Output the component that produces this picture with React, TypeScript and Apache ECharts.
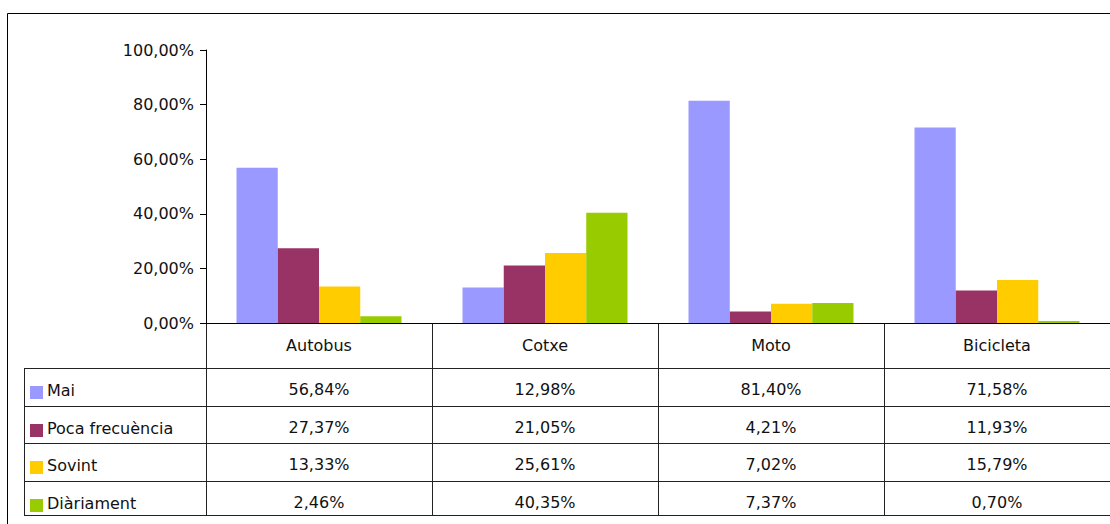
import React, { useEffect, useRef } from "react";
import * as echarts from "echarts";

const categories = ["Autobus", "Cotxe", "Moto", "Bicicleta"];
const seriesNames = ["Mai", "Poca frecuència", "Sovint", "Diàriament"];
const maiValues = [56.84, 12.98, 81.4, 71.58];
const pocaValues = [27.37, 21.05, 4.21, 11.93];
const sovintValues = [13.33, 25.61, 7.02, 15.79];
const diariValues = [2.46, 40.35, 7.37, 0.7];
const seriesColors = ["#9999FF", "#993366", "#FFCC00", "#99CC00"];
const yTicks = [0, 20, 40, 60, 80, 100];

const fmt = (v: number) => v.toFixed(2).replace(".", ",") + "%";

export default function App() {
  const ref = useRef<HTMLDivElement>(null);
  useEffect(() => {
    document.body.style.margin = "0";
    const chart = echarts.init(ref.current!, null, { renderer: "svg" });
    const allValues = [maiValues, pocaValues, sovintValues, diariValues];
    const font = "DejaVu Sans";
    const gridLeft = 206;
    const gridTop = 50;
    const gridRight = 1110;
    const axisY = 323;
    const colW = (gridRight - gridLeft) / categories.length;
    const headerBottom = 368;
    const rowLines = [368, 406, 443, 481, 515];
    const tableLeft = 24;
    const lineColor = "#222";

    const graphics: any[] = [];
    // outer border
    graphics.push({
      type: "rect",
      shape: { x: 7.5, y: 13.5, width: 1120, height: 530 },
      style: { fill: "none", stroke: "#000", lineWidth: 1 },
      silent: true,
    });
    // vertical lines
    for (let i = 0; i < categories.length; i++) {
      const x = Math.round(gridLeft + i * colW) + 0.5;
      graphics.push({
        type: "line",
        shape: { x1: x, y1: axisY, x2: x, y2: rowLines[rowLines.length - 1] },
        style: { stroke: lineColor, lineWidth: 1 },
        silent: true,
      });
    }
    graphics.push({
      type: "line",
      shape: { x1: tableLeft + 0.5, y1: headerBottom, x2: tableLeft + 0.5, y2: rowLines[rowLines.length - 1] },
      style: { stroke: lineColor, lineWidth: 1 },
      silent: true,
    });
    rowLines.forEach((y) => {
      graphics.push({
        type: "line",
        shape: { x1: tableLeft, y1: y + 0.5, x2: gridRight, y2: y + 0.5 },
        style: { stroke: lineColor, lineWidth: 1 },
        silent: true,
      });
    });
    // header texts
    categories.forEach((c, i) => {
      graphics.push({
        type: "text",
        x: gridLeft + (i + 0.5) * colW,
        y: (axisY + headerBottom) / 2,
        style: { text: c, fontFamily: font, fontSize: 16, fill: "#111", align: "center", verticalAlign: "middle" },
        silent: true,
      });
    });
    // rows
    seriesNames.forEach((name, r) => {
      const top = rowLines[r];
      const cy = top + 22;
      graphics.push({
        type: "rect",
        shape: { x: 30, y: cy - 4, width: 13, height: 13 },
        style: { fill: seriesColors[r] },
        silent: true,
      });
      graphics.push({
        type: "text",
        x: 47,
        y: cy,
        style: { text: name, fontFamily: font, fontSize: 16, fill: "#111", align: "left", verticalAlign: "middle" },
        silent: true,
      });
      allValues[r].forEach((v, i) => {
        graphics.push({
          type: "text",
          x: gridLeft + (i + 0.5) * colW,
          y: cy - 1,
          style: { text: fmt(v), fontFamily: font, fontSize: 16, fill: "#111", align: "center", verticalAlign: "middle" },
          silent: true,
        });
      });
    });

    chart.setOption({
      animation: false,
      backgroundColor: "#fff",
      textStyle: { fontFamily: font },
      grid: { left: gridLeft, top: gridTop, width: gridRight - gridLeft, height: axisY - gridTop, containLabel: false },
      xAxis: {
        type: "category",
        data: categories,
        axisLine: { show: true, lineStyle: { color: "#000", width: 1 } },
        axisTick: { show: false },
        axisLabel: { show: false },
        splitLine: { show: false },
      },
      yAxis: {
        type: "value",
        min: yTicks[0],
        max: yTicks[yTicks.length - 1],
        interval: 20,
        axisLine: { show: true, lineStyle: { color: "#000", width: 1 } },
        axisTick: { show: true, inside: false, length: 6, lineStyle: { color: "#000" } },
        axisLabel: { formatter: (v: number) => fmt(v), fontFamily: font, fontSize: 16, color: "#111", margin: 12 },
        splitLine: { show: false },
      },
      series: seriesNames.map((n, i) => ({
        name: n,
        type: "bar",
        data: allValues[i],
        barGap: "0%",
        barCategoryGap: "27%",
        itemStyle: { color: seriesColors[i] },
      })),
      graphic: graphics,
    });
    return () => chart.dispose();
  }, []);
  return <div ref={ref} style={{ width: 1110, height: 524 }} />;
}
